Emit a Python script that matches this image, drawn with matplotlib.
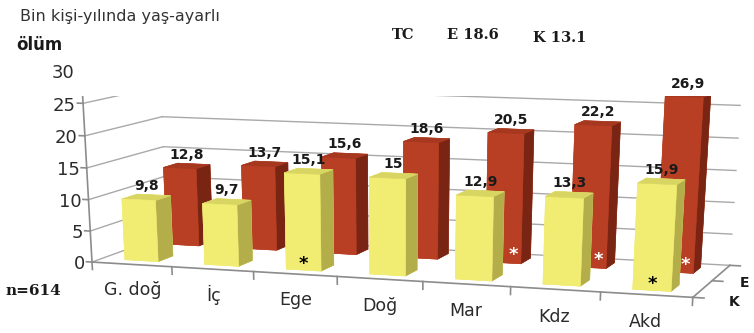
import numpy as np
import matplotlib
matplotlib.use("Agg")
import matplotlib.pyplot as plt
from mpl_toolkits.mplot3d import proj3d

# ---- data -------------------------------------------------------------
regions = ["G. doğ", "İç", "Ege", "Doğ", "Mar", "Kdz", "Akd"]
rate_k = [9.8, 9.7, 15.1, 15.0, 12.9, 13.3, 15.9]
rate_e = [12.8, 13.7, 15.6, 18.6, 20.5, 22.2, 26.9]
star_k = [0, 0, 1, 0, 0, 0, 1]
star_e = [0, 0, 0, 0, 1, 1, 1]
series = ["K", "E"]
z_ticks = [0, 5, 10, 15, 20, 25, 30]

W, H = 754, 333
fig = plt.figure(figsize=(W / 100, H / 100), dpi=100)

# ---- scene geometry (world units: one category slot = 1) ---------------
ZS = 0.0692          # world units per rate unit
DEPTH = 2.12         # floor depth
BAR_W = 0.42
ROW_Y = [0.27, 1.46]  # front face of each series row
NCAT = len(regions)
ZMAX = z_ticks[-1]

# ---- camera -----------------------------------------------------------
elev, azim = 25.0, -71.4
eye = np.array([11.457, -23.29, 4.20])
dist = 27.0
f_px = 2180.0
principal = (390.0, 876.0)

er, ar = np.deg2rad(elev), np.deg2rad(azim)
fwd = -np.array([np.cos(er) * np.cos(ar), np.cos(er) * np.sin(ar), np.sin(er)])
centre = eye + dist * fwd
hx = max(centre[0], NCAT - centre[0])
hy = max(abs(centre[1]), abs(DEPTH - centre[1]))
hz = max(abs(centre[2]), abs(ZMAX * ZS - centre[2]))

ax = fig.add_axes([0, 0, 1, 1], projection="3d")
ax.set_xlim(centre[0] - hx, centre[0] + hx)
ax.set_ylim(centre[1] - hy, centre[1] + hy)
ax.set_zlim((centre[2] - hz) / ZS, (centre[2] + hz) / ZS)
box = (2 * hx, 2 * hy, 2 * hz)
ax.set_box_aspect(box)
k = np.linalg.norm(ax._box_aspect) / np.linalg.norm(box)
fl = dist * k / 10.0
ax.set_proj_type("persp", focal_length=fl)
ax.view_init(elev=elev, azim=azim, roll=0)
ax.set_axis_off()

side = f_px * 0.185 / fl
left = principal[0] - side * 0.095 / 0.185
top = principal[1] - side * 0.090 / 0.185
ax.set_position([left / W, 1 - (top + side) / H, side / W, side / H])

M = ax.get_proj()


def label3d(x, y, z, s, **kw):
    """Place a flat text at the projected position of a 3D point."""
    x2, y2, _ = proj3d.proj_transform(x, y, z, M)
    return ax.text2D(x2, y2, s, transform=ax.transData, **kw)


# ---- walls and axes ---------------------------------------------------
grid_kw = dict(color="#a9a9a9", lw=1.0, zorder=0.2)
for z in z_ticks:
    ax.plot([0, NCAT], [DEPTH, DEPTH], [z, z], **grid_kw)
    ax.plot([0, 0], [0, DEPTH], [z, z], **grid_kw)

axis_kw = dict(color="#8c8c8c", lw=1.2, zorder=0.3)
ax.plot([0, 0], [0, 0], [0, ZMAX], **axis_kw)
ax.plot([0, NCAT], [0, 0], [0, 0], **axis_kw)
ax.plot([NCAT, NCAT], [0, DEPTH], [0, 0], **axis_kw)
for z in z_ticks:
    ax.plot([0, -0.07], [0, 0], [z, z], **axis_kw)
for i in range(NCAT + 1):
    ax.plot([i, i], [0, 0], [0, -1.2], **axis_kw)
for y in [0, DEPTH / 2, DEPTH]:
    ax.plot([NCAT, NCAT + 0.12], [y, y], [0, 0], **axis_kw)

# ---- bars -------------------------------------------------------------
#             bottom      top        front      back       left       right
face_k = ["#f1ed73", "#d9d563", "#f1ed73", "#f1ed73", "#f1ed73", "#b3ad4a"]
face_e = ["#b93f24", "#a63820", "#b93f24", "#b93f24", "#b93f24", "#7a2513"]
xs = np.arange(NCAT) + 0.5 - BAR_W / 2
for row, vals, faces in [(1, rate_e, face_e), (0, rate_k, face_k)]:
    cols = faces * NCAT
    ax.bar3d(xs, np.full(NCAT, ROW_Y[row]), np.zeros(NCAT), BAR_W, BAR_W,
             vals, color=cols, edgecolor=cols, linewidth=0.4, shade=False)

# ---- labels -----------------------------------------------------------
tick_font = dict(family="DejaVu Sans", color="#2b2b2b", zorder=60)
for z in z_ticks:
    label3d(-0.09, 0, z - 0.4, str(z), ha="right", va="center", fontsize=13, **tick_font)
for i, name in enumerate(regions):
    label3d(i + 0.5, 0, -4.2, name, ha="center", va="center", fontsize=12.5, **tick_font)
series_x = [NCAT + 0.3, NCAT + 0.2]
for row, name in enumerate(series):
    label3d(series_x[row], ROW_Y[row] + BAR_W / 2, -1.6, name, ha="left", va="center",
            fontsize=10, fontweight="bold", family="DejaVu Sans", color="#1a1a1a", zorder=60)

val_font = dict(fontsize=10, fontweight="bold", family="DejaVu Sans", color="#1a1a1a", zorder=60)
for row, vals in [(0, rate_k), (1, rate_e)]:
    for i, v in enumerate(vals):
        lab = f"{v:g}".replace(".", ",")
        label3d(i + 0.5, ROW_Y[row] + BAR_W / 2, v + 0.7, lab, ha="center", va="bottom", **val_font)

for i, s in enumerate(star_k):
    if s:
        label3d(i + 0.5, ROW_Y[0], 1.0, "*", ha="center", va="center", fontsize=13,
                fontweight="bold", color="black", zorder=70)
for i, s in enumerate(star_e):
    if s:
        label3d(i + 0.62, ROW_Y[1], 1.3, "*", ha="center", va="center", fontsize=13,
                fontweight="bold", color="white", zorder=70)

# ---- header texts -----------------------------------------------------
fig.text(20 / W, 1 - 17 / H, "Bin kişi-yılında yaş-ayarlı", ha="left", va="center",
         fontsize=11.5, family="DejaVu Sans", color="#333333")
fig.text(16 / W, 1 - 45 / H, "ölüm", ha="left", va="center", fontsize=12,
         family="DejaVu Sans", fontweight="bold", color="#1a1a1a")
hdr = dict(ha="left", va="center", family="DejaVu Serif",
           fontweight="bold", color="#1a1a1a")
fig.text(392 / W, 1 - 35 / H, "TC", fontsize=10.5, **hdr)
fig.text(447 / W, 1 - 35 / H, "E 18.6", fontsize=10.5, **hdr)
fig.text(533 / W, 1 - 38 / H, "K 13.1", fontsize=10.5, **hdr)
fig.text(6 / W, 1 - 291 / H, "n=614", fontsize=11, **hdr)

fig.savefig("out.png", dpi=100)
